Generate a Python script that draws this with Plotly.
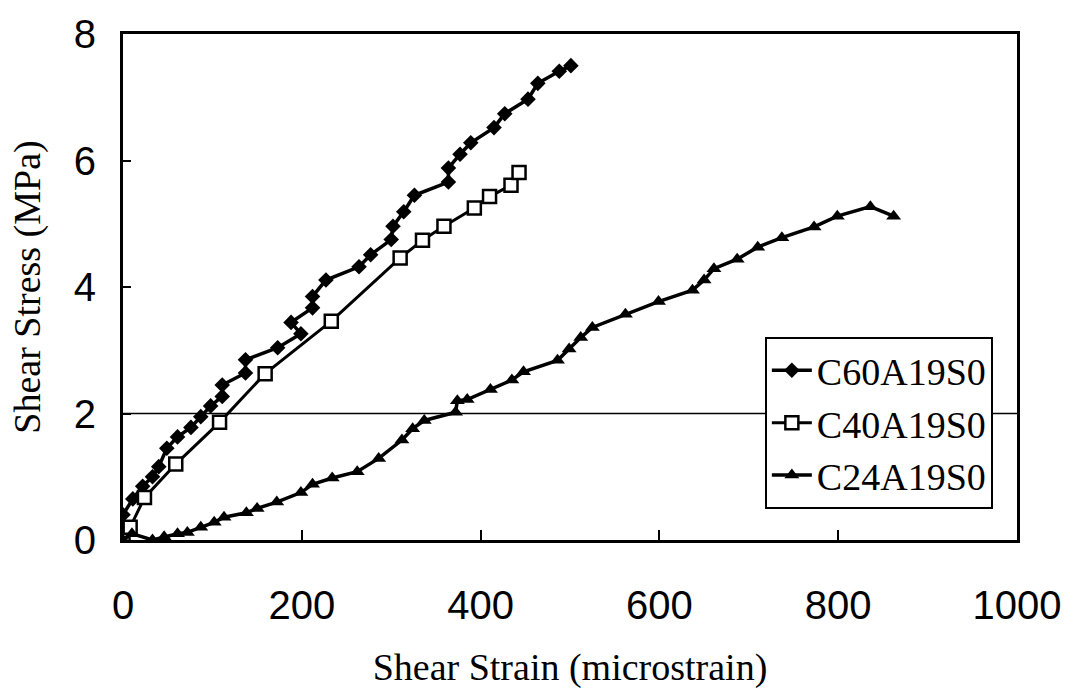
import plotly.graph_objects as go

# C60A19S0 (filled diamonds)
c60_x = [0, 0, 11, 22, 33, 40, 49, 61, 76, 87, 98, 111, 111, 137, 137, 173, 199, 188,
         212, 212, 227, 264, 277, 300, 302, 314, 326, 364, 364, 377, 389, 415, 427,
         453, 464, 488, 501]
c60_y = [0, 0.4, 0.65, 0.85, 1.0, 1.16, 1.45, 1.63, 1.78, 1.95, 2.12, 2.27, 2.45, 2.64,
         2.85, 3.04, 3.26, 3.44, 3.67, 3.85, 4.11, 4.32, 4.51, 4.75, 4.96, 5.19, 5.45,
         5.66, 5.88, 6.10, 6.28, 6.52, 6.74, 6.97, 7.22, 7.41, 7.50]

# C40A19S0 (open squares)
c40_x = [0, 8, 24, 59, 108, 159, 233, 310, 335, 359, 393, 410, 434, 443]
c40_y = [0, 0.2, 0.67, 1.2, 1.86, 2.63, 3.46, 4.46, 4.74, 4.96, 5.25, 5.43, 5.61, 5.81]

# C24A19S0 (filled triangles)
c24_x = [0, 10, 33, 46, 61, 72, 87, 102, 113, 138, 150, 172, 199, 212, 234, 262, 286,
         312, 324, 337, 372, 374, 385, 411, 435, 448, 486, 499, 512, 525, 562, 599,
         637, 650, 661, 687, 710, 737, 773, 799, 836, 862]
c24_y = [0, 0.1, 0, 0.05, 0.1, 0.12, 0.2, 0.28, 0.36, 0.43, 0.5, 0.6, 0.75, 0.88, 0.98,
         1.08, 1.29, 1.58, 1.76, 1.89, 2.02, 2.20, 2.22, 2.38, 2.53, 2.66, 2.84, 3.02,
         3.20, 3.36, 3.57, 3.77, 3.95, 4.11, 4.29, 4.44, 4.63, 4.78, 4.95, 5.12, 5.27,
         5.12]

x_ticks = [0, 200, 400, 600, 800, 1000]
y_ticks = [0, 2, 4, 6, 8]
grid_level = 2

serif = "Liberation Serif, Times New Roman, serif"
sans = "Liberation Sans, Arial, sans-serif"

fig = go.Figure()
fig.add_trace(go.Scatter(
    x=c60_x, y=c60_y, name="C60A19S0", mode="lines+markers",
    line=dict(color="black", width=3.5),
    marker=dict(symbol="diamond", size=12, color="black"),
))
fig.add_trace(go.Scatter(
    x=c40_x, y=c40_y, name="C40A19S0", mode="lines+markers",
    line=dict(color="black", width=3),
    marker=dict(symbol="square", size=13, color="white",
                line=dict(color="black", width=2.5)),
))
fig.add_trace(go.Scatter(
    x=c24_x, y=c24_y, name="C24A19S0", mode="lines+markers",
    line=dict(color="black", width=3.5),
    marker=dict(symbol="triangle-up", size=13, color="black"),
))

fig.add_shape(type="line", xref="paper", x0=0, x1=1, yref="y",
              y0=grid_level, y1=grid_level, line=dict(color="black", width=1.5),
              layer="below")

fig.update_layout(
    width=1073, height=698,
    margin=dict(l=123, r=46, t=24, b=158),
    paper_bgcolor="white", plot_bgcolor="white",
    showlegend=True,
    legend=dict(
        x=0.973, y=0.401, xanchor="right", yanchor="top",
        font=dict(family=serif, size=38, color="black"),
        bgcolor="white", bordercolor="black", borderwidth=2,
        itemwidth=40, tracegroupgap=0,
    ),
    xaxis=dict(
        range=[0, 1000], tickvals=x_ticks, showgrid=False, zeroline=False,
        showline=True, linecolor="black", linewidth=3, mirror=True,
        ticks="inside", ticklen=10, tickwidth=2, tickcolor="black",
        ticklabelstandoff=28,
        tickfont=dict(family=sans, size=40, color="black"),
        title=dict(text="Shear Strain (microstrain)",
                   font=dict(family=serif, size=38, color="black"), standoff=28),
    ),
    yaxis=dict(
        range=[0, 8], tickvals=y_ticks, showgrid=False, zeroline=False,
        showline=True, linecolor="black", linewidth=3, mirror=True,
        ticks="inside", ticklen=8, tickwidth=1.5, tickcolor="black",
        ticklabelstandoff=16,
        tickfont=dict(family=sans, size=40, color="black"),
        title=dict(text="Shear Stress (MPa)",
                   font=dict(family=serif, size=38, color="black"), standoff=22),
    ),
)

fig.write_html("out.html")
